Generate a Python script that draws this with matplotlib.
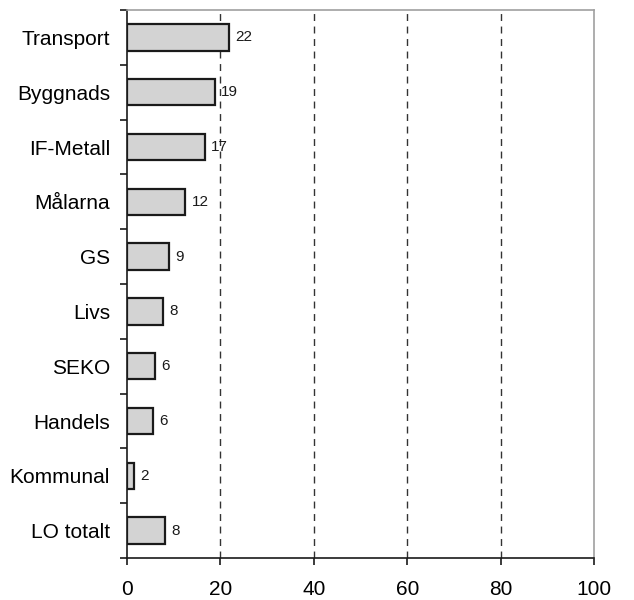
import matplotlib
matplotlib.use("Agg")
import matplotlib.pyplot as plt
import numpy as np

categories = ["Transport", "Byggnads", "IF-Metall", "Målarna", "GS", "Livs",
              "SEKO", "Handels", "Kommunal", "LO totalt"]
values = [21.9, 18.8, 16.7, 12.5, 9.0, 7.7, 6.0, 5.6, 1.6, 8.2]
value_labels = ["22", "19", "17", "12", "9", "8", "6", "6", "2", "8"]
xticks = [0, 20, 40, 60, 80, 100]

plt.rcParams['font.family'] = ['Liberation Sans', 'DejaVu Sans']

fig = plt.figure(figsize=(6.34, 6.0), dpi=100)
ax = fig.add_axes([0.1998, 0.07, 0.9374 - 0.1998, 0.9833 - 0.07])

y = np.arange(len(categories))
ax.barh(y, values, height=0.48, color="#d3d3d3", edgecolor="#1a1a1a",
        linewidth=1.6, zorder=3)
for yi, v, lab in zip(y, values, value_labels):
    ax.text(v + 1.4, yi, lab, va="center", ha="left", fontsize=11, color="#1a1a1a")

ax.set_ylim(len(categories) - 0.5, -0.5)
ax.set_xlim(0, 100)
ax.set_xticks(xticks)
ax.set_xticklabels([str(t) for t in xticks], fontsize=15)
ax.set_yticks(y)
ax.set_yticklabels(categories, fontsize=15)
ax.set_yticks(np.arange(-0.5, len(categories), 1.0), minor=True)
ax.tick_params(axis="y", which="major", length=0, pad=12)
ax.tick_params(axis="y", which="minor", length=5, width=1.2, direction="out", color="#1a1a1a")
ax.tick_params(axis="x", length=5, width=1.2, direction="out", pad=11, color="#1a1a1a")

for xv in xticks[1:-1]:
    ax.axvline(xv, color="#333333", linestyle=(0, (5, 4)), linewidth=1.0, zorder=1)

for s in ["left", "bottom"]:
    ax.spines[s].set_color("#1a1a1a")
    ax.spines[s].set_linewidth(1.2)
for s in ["top", "right"]:
    ax.spines[s].set_color("#a0a0a0")
    ax.spines[s].set_linewidth(1.2)

fig.savefig("out.png", dpi=100)
